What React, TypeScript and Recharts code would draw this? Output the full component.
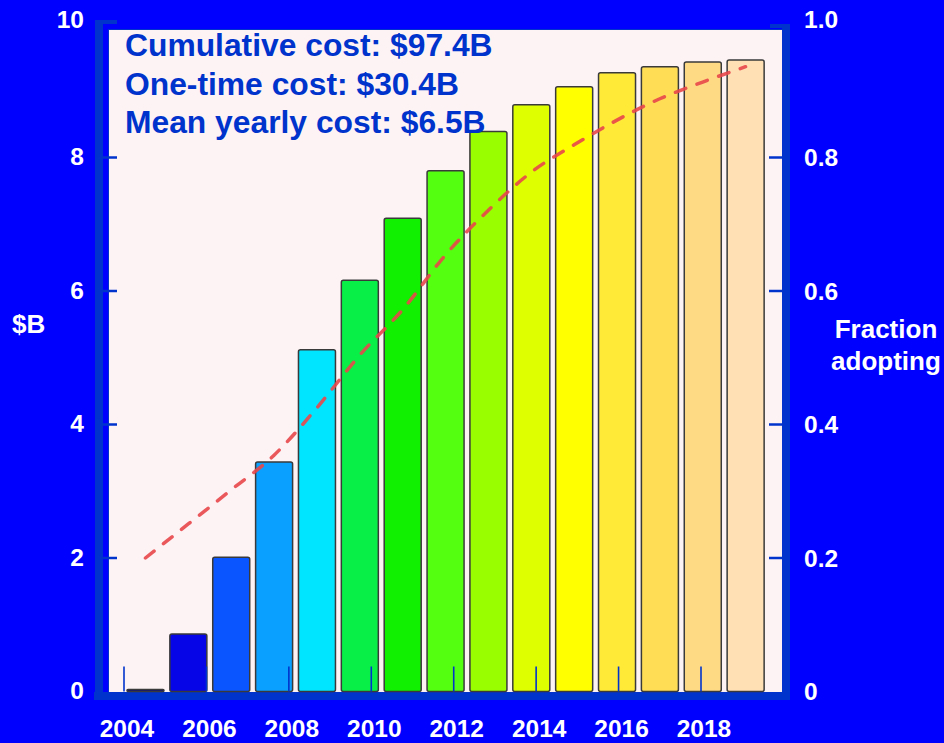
import React from 'react';
import { ComposedChart, Bar, Line, XAxis, YAxis, Cell } from 'recharts';

const YEARS = [2004, 2005, 2006, 2007, 2008, 2009, 2010, 2011, 2012, 2013, 2014, 2015, 2016, 2017, 2018];
const COST_B = [0.03, 0.86, 2.01, 3.44, 5.12, 6.16, 7.09, 7.8, 8.39, 8.79, 9.06, 9.27, 9.36, 9.43, 9.46];
const FRACTION = [0.2, 0.251, 0.302, 0.354, 0.425, 0.504, 0.572, 0.654, 0.721, 0.778, 0.819, 0.856, 0.888, 0.913, 0.936];
const YEAR_TICKS = [2004, 2006, 2008, 2010, 2012, 2014, 2016, 2018];
const COST_TICKS = [0, 2, 4, 6, 8, 10];
const FRACTION_TICKS = [0, 0.2, 0.4, 0.6, 0.8, 1.0];
const NOTES = ['Cumulative cost: $97.4B', 'One-time cost: $30.4B', 'Mean yearly cost: $6.5B'];

const BAR_COLORS = [
  '#000088', '#0505e8', '#0a55ff', '#0aa0ff', '#00e5ff', '#08f048', '#10f000', '#55ff10',
  '#99ff00', '#ddff00', '#ffff00', '#ffea38', '#ffdd55', '#ffda85', '#ffe0b5',
];

const data = YEARS.map((y, i) => ({ year: y, cost: COST_B[i], fraction: FRACTION[i] }));

const FONT = '"Liberation Sans", Arial, sans-serif';
const FRAME = '#0033cc';

const YearTick = (props: any) => {
  const { x, y, payload } = props;
  return (
    <g>
      <line x1={x} x2={x} y1={y - 25} y2={y} stroke={FRAME} strokeWidth={1.6} />
      <text x={x + 3} y={y + 45} textAnchor="middle" fill="#fff" fontFamily={FONT} fontWeight="bold" fontSize={24.5}>
        {payload.value}
      </text>
    </g>
  );
};

const CostTick = (props: any) => {
  const { x, y, payload } = props;
  const v = payload.value;
  return (
    <g>
      {v > 0 && v < 10 && <line x1={x - 7} x2={x + 8} y1={y} y2={y} stroke={FRAME} strokeWidth={2.5} />}
      <text x={x - 25} y={v === 10 ? y - 5 : y - 1} textAnchor="end" dominantBaseline="central" fill="#fff"
        fontFamily={FONT} fontWeight="bold" fontSize={24.5}>
        {v}
      </text>
    </g>
  );
};

const FractionTick = (props: any) => {
  const { x, y, payload } = props;
  const v = payload.value;
  const label = v === 0 ? '0' : v.toFixed(1);
  return (
    <g>
      {v > 0 && v < 1 && <line x1={x - 13} x2={x} y1={y} y2={y} stroke={FRAME} strokeWidth={2.5} />}
      <text x={x + 22} y={v === 1 ? y - 5 : y} textAnchor="start" dominantBaseline="central" fill="#fff"
        fontFamily={FONT} fontWeight="bold" fontSize={24.5}>
        {label}
      </text>
    </g>
  );
};

const box = (left: number, top: number, width: number, height: number, bg: string): React.CSSProperties => ({
  position: 'absolute', left, top, width, height, background: bg,
});

export default function App() {
  return (
    <div style={{ position: 'absolute', left: 0, top: 0, width: 944, height: 743, background: '#0000ff', overflow: 'hidden' }}>
      {/* plot background and frame */}
      <div style={{ ...box(108, 29, 674, 663, '#fdf3f5'), borderTop: `1px solid ${FRAME}`, borderLeft: `1px solid ${FRAME}`, boxSizing: 'border-box' }} />
      <div style={box(95, 20, 8, 672, FRAME)} />
      <div style={box(95, 20, 22, 4, FRAME)} />
      <div style={box(94, 692, 696, 8, FRAME)} />
      <div style={box(782, 24, 8, 676, FRAME)} />
      <div style={box(770, 24, 20, 4, FRAME)} />

      <div style={{ position: 'absolute', left: 0, top: 0 }}>
        <ComposedChart width={944} height={743} data={data} margin={{ top: 24, right: 0, bottom: 0, left: 0 }}>
          <XAxis xAxisId="cat" dataKey="year" type="category" hide height={0} padding={{ left: 15, right: 15 }} />
          <XAxis xAxisId="yr" dataKey="year" type="number" domain={[2004, 2018]} allowDataOverflow ticks={YEAR_TICKS}
            padding={{ left: 15, right: 81 }} height={51.5} tickLine={false} axisLine={false}
            tickSize={0} tickMargin={0} tick={<YearTick />} interval={0} />
          <YAxis yAxisId="left" domain={[0, 10]} ticks={COST_TICKS} width={109} tickLine={false} axisLine={false}
            tickSize={0} tickMargin={0} tick={<CostTick />} interval={0} />
          <YAxis yAxisId="right" orientation="right" domain={[0, 1]} ticks={FRACTION_TICKS} width={162}
            tickLine={false} axisLine={false} tickSize={0} tickMargin={0} tick={<FractionTick />} interval={0} />
          <Bar xAxisId="cat" yAxisId="left" dataKey="cost" barSize={37} stroke="#3a3a3a" strokeWidth={1.5}
            radius={2} isAnimationActive={false}>
            {data.map((d, i) => (
              <Cell key={d.year} fill={BAR_COLORS[i]} />
            ))}
          </Bar>
          {/* invisible series so the year axis gets its numeric scale */}
          <Line xAxisId="yr" yAxisId="right" dataKey="fraction" stroke="none" dot={false} activeDot={false}
            legendType="none" isAnimationActive={false} />
          <Line xAxisId="cat" yAxisId="right" type="monotone" dataKey="fraction" stroke="#e8474a" strokeOpacity={0.9}
            strokeWidth={3.5} strokeDasharray="11 12" strokeLinecap="round" dot={false} isAnimationActive={false} />
        </ComposedChart>
      </div>

      {/* annotations and axis titles */}
      {NOTES.map((t, i) => (
        <div key={t} style={{ position: 'absolute', left: 125, top: 27 + i * 38.5, fontFamily: FONT, fontWeight: 'bold',
          fontSize: 31.8, lineHeight: '36px', color: FRAME, whiteSpace: 'nowrap' }}>
          {t}
        </div>
      ))}
      <div style={{ position: 'absolute', left: 12, top: 309, fontFamily: FONT, fontWeight: 'bold', fontSize: 26,
        lineHeight: '30px', color: '#fff' }}>$B</div>
      <div style={{ position: 'absolute', left: 826, top: 313, width: 120, textAlign: 'center', fontFamily: FONT,
        fontWeight: 'bold', fontSize: 26, lineHeight: '32px', color: '#fff' }}>
        Fraction<br />adopting
      </div>
    </div>
  );
}
